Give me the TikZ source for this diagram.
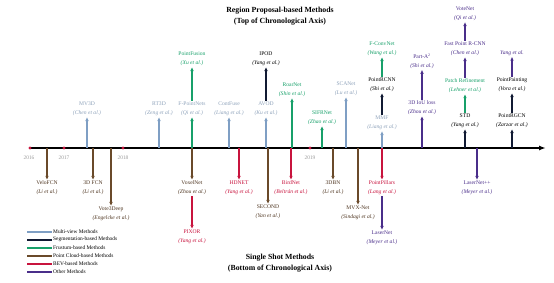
\documentclass[tikz,border=0pt]{standalone}
\usepackage{fontspec}
\setmainfont{Liberation Serif}
\usetikzlibrary{arrows.meta}

\definecolor{mvblue}{HTML}{7F9FC4}
\definecolor{mvtxt}{HTML}{8EA2BA}
\definecolor{segnavy}{HTML}{111A33}
\definecolor{frgreen}{HTML}{18A06A}
\definecolor{pcbrown}{HTML}{6A4A2A}
\definecolor{pctxt}{HTML}{4E3520}
\definecolor{bevred}{HTML}{C8143E}
\definecolor{othpurple}{HTML}{4A2E8A}
\definecolor{yeargray}{HTML}{9A9A9A}

\begin{document}
\begin{tikzpicture}[x=1pt,y=-1pt]
\tikzset{
  method/.style={align=center,inner sep=1pt,font=\fontsize{5.6}{8.8}\selectfont},
  mvtext/.style={method,text=mvtxt},
  segtext/.style={method,text=black},
  frtext/.style={method,text=frgreen},
  pctext/.style={method,text=pctxt},
  bevtext/.style={method,text=bevred},
  othtext/.style={method,text=othpurple},
  titletext/.style={align=center,inner sep=1pt,font=\fontsize{7.8}{11}\selectfont\bfseries},
  legendtext/.style={anchor=west,inner sep=1pt,font=\fontsize{5.4}{6}\selectfont},
  legendline/.style={line width=2pt},
  yeardot/.style={circle,fill=bevred,inner sep=0pt,minimum size=3.2pt},
  yeartext/.style={inner sep=1pt,text=yeargray,font=\fontsize{5.4}{6}\selectfont},
  axisline/.style={line width=1.6pt,-{Latex[length=7pt,width=5pt]}},
  arrowline/.style={line width=1.1pt,-{Latex[length=4pt,width=3.6pt]}},
  mvarrow/.style={arrowline,draw=mvblue},
  segarrow/.style={arrowline,draw=segnavy},
  frarrow/.style={arrowline,draw=frgreen},
  pcarrow/.style={arrowline,draw=pcbrown},
  bevarrow/.style={arrowline,draw=bevred},
  otharrow/.style={arrowline,draw=othpurple}
}
\useasboundingbox (0,0) rectangle (554,283);

% titles
\node[titletext] (t_top) at (280,16) {Region Proposal-based Methods\\(Top of Chronological Axis)};
\node[titletext] (t_bottom) at (280,263) {Single Shot Methods\\(Bottom of Chronological Axis)};

% time axis
\coordinate (ax_start) at (30,148);
\coordinate (ax_end) at (546,148);
\draw[axisline] (ax_start) -- (ax_end);
\node[yeardot] (y_2016) at (30,148) {};
\node[yeardot] (y_2017) at (64,148) {};
\node[yeardot] (y_2018) at (123,148) {};
\node[yeardot] (y_2019) at (310,148) {};
\node[yeartext] (yl_2016) at (29,157.5) {2016};
\node[yeartext] (yl_2017) at (64,157.5) {2017};
\node[yeartext] (yl_2018) at (123,157.5) {2018};
\node[yeartext] (yl_2019) at (310,157.5) {2019};

% points on the axis
\coordinate (a_velofcn) at (47,148);
\coordinate (a_mvthreed) at (87,148);
\coordinate (a_threedfcn) at (93,148);
\coordinate (a_vote3deep) at (111,148);
\coordinate (a_rtthreed) at (159,148);
\coordinate (a_fpointnet) at (192,148);
\coordinate (a_voxelnet) at (192,148);
\coordinate (a_contfuse) at (229,148);
\coordinate (a_hdnet) at (239,148);
\coordinate (a_avod) at (266,148);
\coordinate (a_second) at (268,148);
\coordinate (a_birdnet) at (291,148);
\coordinate (a_roarnet) at (292,148);
\coordinate (a_sifrnet) at (322,148);
\coordinate (a_threedbn) at (333,148);
\coordinate (a_scanet) at (346,148);
\coordinate (a_mvxnet) at (358,148);
\coordinate (a_mmf) at (382,148);
\coordinate (a_pointpillars) at (382,148);
\coordinate (a_iouloss) at (422,148);
\coordinate (a_std) at (465,148);
\coordinate (a_lasernetpp) at (477,148);
\coordinate (a_pointrgcn) at (512,148);

% region proposal-based methods
\node[mvtext] (n_mvthreed) at (87,109) {MV3D\\\textit{(Chen et al.)}};
\node[mvtext] (n_rtthreed) at (159,109) {RT3D\\\textit{(Zeng et al.)}};
\node[mvtext] (n_fpointnet) at (192,109) {F-PointNets\\\textit{(Qi et al.)}};
\node[frtext] (n_pointfusion) at (192,59) {PointFusion\\\textit{(Xu et al.)}};
\node[mvtext] (n_contfuse) at (229,109) {ContFuse\\\textit{(Liang et al.)}};
\node[mvtext] (n_avod) at (266,109) {AVOD\\\textit{(Ku et al.)}};
\node[segtext] (n_ipod) at (266,59) {IPOD\\\textit{(Yang et al.)}};
\node[frtext] (n_roarnet) at (292,90) {RoarNet\\\textit{(Shin et al.)}};
\node[frtext] (n_sifrnet) at (322,118) {SIFRNet\\\textit{(Zhao et al.)}};
\node[mvtext] (n_scanet) at (346,89) {SCANet\\\textit{(Lu et al.)}};
\node[mvtext] (n_mmf) at (382,123) {MMF\\\textit{(Liang et al.)}};
\node[segtext] (n_pointrcnn) at (382,85) {PointRCNN\\\textit{(Shi et al.)}};
\node[frtext] (n_fconvnet) at (382,49) {F-ConvNet\\\textit{(Wang et al.)}};
\node[othtext] (n_iouloss) at (422,108) {3D IoU loss\\\textit{(Zhou et al.)}};
\node[othtext] (n_parta) at (422,61) {Part-A\textsuperscript{2}\\\textit{(Shi et al.)}};
\node[segtext] (n_std) at (465,121) {STD\\\textit{(Yang et al.)}};
\node[frtext] (n_patchref) at (465,86) {Patch Refinement\\\textit{(Lehner et al.)}};
\node[othtext] (n_fastpointrcnn) at (465,49) {Fast Point R-CNN\\\textit{(Chen et al.)}};
\node[othtext] (n_votenet) at (465,14) {VoteNet\\\textit{(Qi et al.)}};
\node[segtext] (n_pointrgcn) at (512,121) {PointRGCN\\\textit{(Zarzar et al.)}};
\node[segtext] (n_pointpainting) at (512,85) {PointPainting\\\textit{(Vora et al.)}};
\node[othtext] (n_yang) at (512,53) {\textit{Yang et al.}};

% single shot methods
\node[pctext] (n_velofcn) at (47,188) {VeloFCN\\\textit{(Li et al.)}};
\node[pctext] (n_threedfcn) at (93,188) {3D FCN\\\textit{(Li et al.)}};
\node[pctext] (n_vote3deep) at (111,214) {Vote3Deep\\\textit{(Engelcke et al.)}};
\node[pctext] (n_voxelnet) at (192,188) {VoxelNet\\\textit{(Zhou et al.)}};
\node[bevtext] (n_pixor) at (192,237) {PIXOR\\\textit{(Yang et al.)}};
\node[bevtext] (n_hdnet) at (239,188) {HDNET\\\textit{(Yang et al.)}};
\node[pctext] (n_second) at (268,212) {SECOND\\\textit{(Yan et al.)}};
\node[bevtext] (n_birdnet) at (291,188) {BirdNet\\\textit{(Beltrán et al.)}};
\node[pctext] (n_threedbn) at (333,188) {3DBN\\\textit{(Li et al.)}};
\node[pctext] (n_mvxnet) at (358,213) {MVX-Net\\\textit{(Sindagi et al.)}};
\node[bevtext] (n_pointpillars) at (382,188) {PointPillars\\\textit{(Lang et al.)}};
\node[othtext] (n_lasernet) at (382,238) {LaserNet\\\textit{(Meyer et al.)}};
\node[othtext] (n_lasernetpp) at (477,188) {LaserNet++\\\textit{(Meyer et al.)}};

% connectors above the axis
\draw[mvarrow] (a_mvthreed) -- (n_mvthreed);
\draw[mvarrow] (a_rtthreed) -- (n_rtthreed);
\draw[frarrow] (a_fpointnet) -- (n_fpointnet);
\draw[frarrow] (n_fpointnet) -- (n_pointfusion);
\draw[mvarrow] (a_contfuse) -- (n_contfuse);
\draw[mvarrow] (a_avod) -- (n_avod);
\draw[segarrow] (n_avod) -- (n_ipod);
\draw[frarrow] (a_roarnet) -- (n_roarnet);
\draw[frarrow] (a_sifrnet) -- (n_sifrnet);
\draw[mvarrow] (a_scanet) -- (n_scanet);
\draw[mvarrow] (a_mmf) -- (n_mmf);
\draw[segarrow] (n_mmf) -- (n_pointrcnn);
\draw[frarrow] (n_pointrcnn) -- (n_fconvnet);
\draw[otharrow] (a_iouloss) -- (n_iouloss);
\draw[otharrow] (n_iouloss) -- (n_parta);
\draw[segarrow] (a_std) -- (n_std);
\draw[frarrow] (n_std) -- (n_patchref);
\draw[otharrow] (n_patchref) -- (n_fastpointrcnn);
\draw[otharrow] (n_fastpointrcnn) -- (n_votenet);
\draw[segarrow] (a_pointrgcn) -- (n_pointrgcn);
\draw[segarrow] (n_pointrgcn) -- (n_pointpainting);
\draw[otharrow] (n_pointpainting) -- (n_yang);

% connectors below the axis
\draw[pcarrow] (a_velofcn) -- (n_velofcn);
\draw[pcarrow] (a_threedfcn) -- (n_threedfcn);
\draw[pcarrow] (a_vote3deep) -- (n_vote3deep);
\draw[pcarrow] (a_voxelnet) -- (n_voxelnet);
\draw[bevarrow] (n_voxelnet) -- (n_pixor);
\draw[bevarrow] (a_hdnet) -- (n_hdnet);
\draw[pcarrow] (a_second) -- (n_second);
\draw[bevarrow] (a_birdnet) -- (n_birdnet);
\draw[pcarrow] (a_threedbn) -- (n_threedbn);
\draw[pcarrow] (a_mvxnet) -- (n_mvxnet);
\draw[bevarrow] (a_pointpillars) -- (n_pointpillars);
\draw[otharrow] (n_pointpillars) -- (n_lasernet);
\draw[otharrow] (a_lasernetpp) -- (n_lasernetpp);

% legend
\coordinate (ls_mv) at (27,232);
\coordinate (ls_seg) at (27,239.5);
\coordinate (ls_fr) at (27,247.5);
\coordinate (ls_pc) at (27,255.5);
\coordinate (ls_bev) at (27,263.5);
\coordinate (ls_oth) at (27,271.5);
\node[legendtext] (lg_mv) at (52,232) {Multi-view Methods};
\node[legendtext] (lg_seg) at (52,239.5) {Segmentation-based Methods};
\node[legendtext] (lg_fr) at (52,247.5) {Frustum-based Methods};
\node[legendtext] (lg_pc) at (52,255.5) {Point Cloud-based Methods};
\node[legendtext] (lg_bev) at (52,263.5) {BEV-based Methods};
\node[legendtext] (lg_oth) at (52,271.5) {Other Methods};
\draw[legendline,mvblue] (ls_mv) -- (lg_mv.west);
\draw[legendline,segnavy] (ls_seg) -- (lg_seg.west);
\draw[legendline,frgreen] (ls_fr) -- (lg_fr.west);
\draw[legendline,pcbrown] (ls_pc) -- (lg_pc.west);
\draw[legendline,bevred] (ls_bev) -- (lg_bev.west);
\draw[legendline,othpurple] (ls_oth) -- (lg_oth.west);
\end{tikzpicture}
\end{document}
